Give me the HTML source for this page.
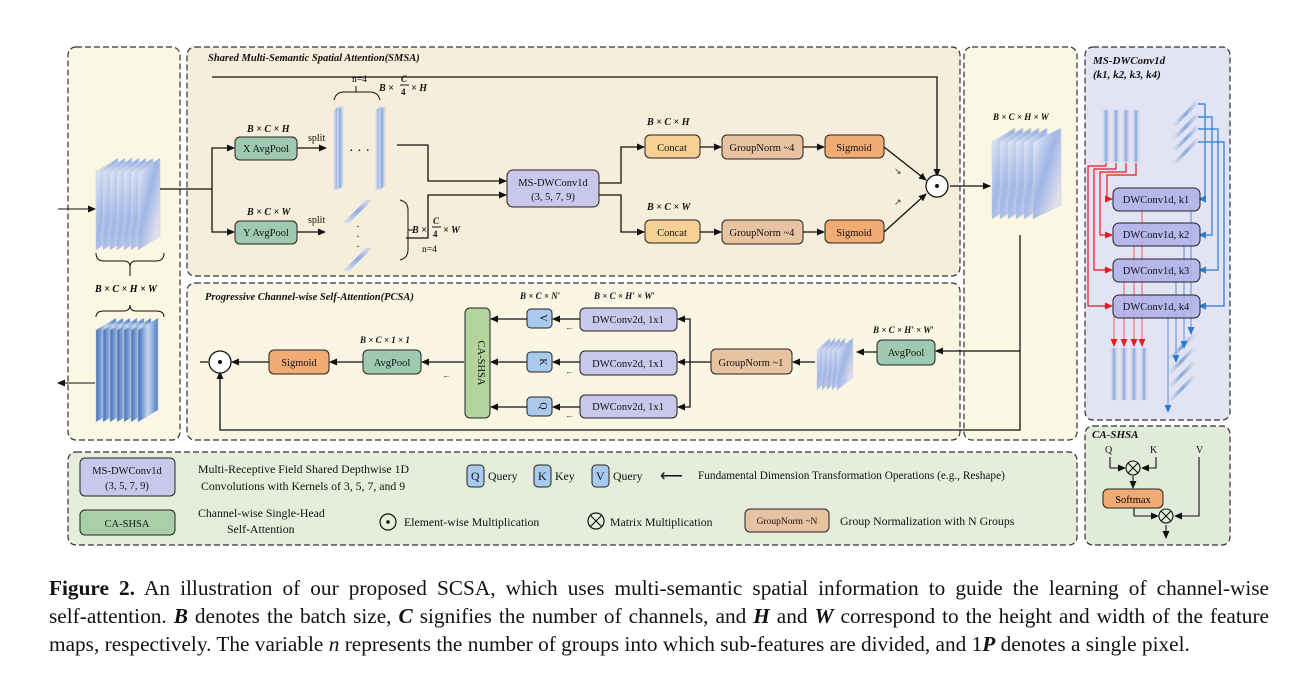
<!DOCTYPE html>
<html><head><meta charset="utf-8"><style>
body{margin:0;background:#fff;}
svg{display:block;font-family:"Liberation Serif",serif;}
.cap{position:absolute;left:49px;top:574px;width:1220px;font-family:"Liberation Serif",serif;font-size:21.3px;line-height:28px;color:#111;}
.cap div{text-align:justify;text-align-last:justify;white-space:nowrap;}
.cap div.l{text-align-last:left;}
</style></head><body>
<div style="position:relative;width:1316px;height:679px;overflow:hidden">
<svg width="1316" height="679" viewBox="0 0 1316 679">
<defs>
<linearGradient id="fm" x1="0" y1="0" x2="1" y2="1">
<stop offset="0" stop-color="#eef0f8"/><stop offset="0.45" stop-color="#9fb6e6"/><stop offset="0.8" stop-color="#dcdcec"/><stop offset="1" stop-color="#e9e1df"/></linearGradient>
<linearGradient id="fm2" x1="0" y1="0" x2="1" y2="0">
<stop offset="0" stop-color="#e6eaf4"/><stop offset="0.5" stop-color="#86a8e0"/><stop offset="1" stop-color="#e6eaf4"/></linearGradient>
<linearGradient id="fm3" x1="0" y1="0" x2="1" y2="0">
<stop offset="0" stop-color="#3f6fb8"/><stop offset="0.5" stop-color="#c7d7ef"/><stop offset="1" stop-color="#4f7fc6"/></linearGradient>
<marker id="a" markerWidth="8" markerHeight="8" refX="7" refY="4" orient="auto" markerUnits="userSpaceOnUse"><path d="M0,0.5 L8,4 L0,7.5z" fill="#111"/></marker>
<marker id="ar" markerWidth="8" markerHeight="8" refX="7" refY="4" orient="auto" markerUnits="userSpaceOnUse"><path d="M0,0.5 L8,4 L0,7.5z" fill="#e81c1c"/></marker>
<marker id="ab" markerWidth="8" markerHeight="8" refX="7" refY="4" orient="auto" markerUnits="userSpaceOnUse"><path d="M0,0.5 L8,4 L0,7.5z" fill="#2a7ccc"/></marker>
</defs>
<g stroke="#333" stroke-width="1.2" stroke-dasharray="6,3">
<rect x="68" y="47" width="112" height="393" rx="8" fill="#faf7e2"/>
<rect x="964" y="47" width="113" height="393" rx="8" fill="#faf7e2"/>
<rect x="187" y="47" width="773" height="229" rx="8" fill="#f7eddb"/>
<rect x="187" y="283" width="773" height="157" rx="8" fill="#faf6e3"/>
<rect x="68" y="452" width="1009" height="93" rx="8" fill="#e6eedb"/>
<rect x="1085" y="47" width="145" height="373" rx="8" fill="#e3e3f6"/>
<rect x="1085" y="426" width="145" height="119" rx="8" fill="#e0ebd9"/>
</g>
<g font-style="italic" font-weight="bold" font-size="10.5" fill="#111">
<text x="208" y="61">Shared Multi-Semantic Spatial Attention(SMSA)</text>
<text x="205" y="300">Progressive Channel-wise Self-Attention(PCSA)</text>
<text x="1093" y="64" font-size="11">MS-DWConv1d</text>
<text x="1093" y="78" font-size="11">(k1, k2, k3, k4)</text>
<text x="1092" y="438" font-size="11">CA-SHSA</text>
</g>
<g>
<polygon points="96,172 118,158 118,236 96,250" fill="url(#fm)" stroke="#ccd" stroke-width="0.5"/>
<polygon points="103,172 125,158 125,236 103,250" fill="url(#fm)" stroke="#ccd" stroke-width="0.5"/>
<polygon points="110,172 132,158 132,236 110,250" fill="url(#fm)" stroke="#ccd" stroke-width="0.5"/>
<polygon points="117,172 139,158 139,236 117,250" fill="url(#fm)" stroke="#ccd" stroke-width="0.5"/>
<polygon points="124,172 146,158 146,236 124,250" fill="url(#fm)" stroke="#ccd" stroke-width="0.5"/>
<polygon points="131,172 153,158 153,236 131,250" fill="url(#fm)" stroke="#ccd" stroke-width="0.5"/>
<polygon points="138,172 160,158 160,236 138,250" fill="url(#fm)" stroke="#ccd" stroke-width="0.5"/>
</g>
<line x1="58" y1="209" x2="95" y2="209" stroke="#111" marker-end="url(#a)"/>
<path d="M96,253 q0,8 8,8 h20 q6,0 6,6 q0,-6 6,-6 h20 q8,0 8,-8" fill="none" stroke="#111"/>
<line x1="130" y1="267" x2="130" y2="276" stroke="#111"/>
<text x="95" y="292" font-size="10" font-style="italic" font-weight="bold">B × C × H × W</text>
<path d="M96,317 q0,-6 8,-6 h20 q6,0 6,-6 q0,6 6,6 h20 q8,0 8,6" fill="none" stroke="#111"/>
<g>
<polygon points="96,330 116,318 116,410 96,422" fill="url(#fm3)" stroke="#ccd" stroke-width="0.5"/>
<polygon points="103,330 123,318 123,410 103,422" fill="url(#fm3)" stroke="#ccd" stroke-width="0.5"/>
<polygon points="110,330 130,318 130,410 110,422" fill="url(#fm3)" stroke="#ccd" stroke-width="0.5"/>
<polygon points="117,330 137,318 137,410 117,422" fill="url(#fm3)" stroke="#ccd" stroke-width="0.5"/>
<polygon points="124,330 144,318 144,410 124,422" fill="url(#fm3)" stroke="#ccd" stroke-width="0.5"/>
<polygon points="131,330 151,318 151,410 131,422" fill="url(#fm3)" stroke="#ccd" stroke-width="0.5"/>
<polygon points="138,330 158,318 158,410 138,422" fill="url(#fm3)" stroke="#ccd" stroke-width="0.5"/>
</g>
<line x1="95" y1="383" x2="58" y2="383" stroke="#111" marker-end="url(#a)"/>
<g stroke="#111" stroke-width="1.3" fill="none">
<path d="M160,189 H212"/>
<path d="M212,189 V148 H234" marker-end="url(#a)"/>
<path d="M212,189 V232 H234" marker-end="url(#a)"/>
<path d="M212,77 H937 V176" marker-end="url(#a)"/>
<path d="M297,148 H326" marker-end="url(#a)"/>
<path d="M297,232 H325" marker-end="url(#a)"/>
<path d="M397,145 H428 V181 H506" marker-end="url(#a)"/>
<path d="M406,238 H428 V195 H506" marker-end="url(#a)"/>
<path d="M599,183 H621 V147 H644" marker-end="url(#a)"/>
<path d="M599,195 H621 V232 H644" marker-end="url(#a)"/>
<path d="M700,147 H721" marker-end="url(#a)"/>
<path d="M803,147 H824" marker-end="url(#a)"/>
<path d="M700,232 H721" marker-end="url(#a)"/>
<path d="M803,232 H824" marker-end="url(#a)"/>
<path d="M884,147 L926,180" marker-end="url(#a)"/>
<path d="M884,232 L926,194" marker-end="url(#a)"/>
<path d="M950,186 H990" marker-end="url(#a)"/>
<path d="M1020,235 V430 H220 V372" marker-end="url(#a)"/>
<path d="M1020,351 H936" marker-end="url(#a)"/>
</g>
<g font-size="9" fill="#333"><text x="894" y="174">↘</text><text x="894" y="205">↗</text></g>
<g fill="url(#fm2)" stroke="#bcc8e0" stroke-width="0.5">
<polygon points="334,110 340,106 340,186 334,190"/><polygon points="337,110 343,106 343,186 337,190"/>
<polygon points="376,110 382,106 382,186 376,190"/><polygon points="379,110 385,106 385,186 379,190"/>
<polygon points="344,222 366,200 369,200 347,222"/><polygon points="347,222 369,200 372,200 350,222"/>
<polygon points="344,270 366,248 369,248 347,270"/><polygon points="347,270 369,248 372,248 350,270"/>
</g>
<text x="349" y="155" font-size="14">· · ·</text>
<text x="356" y="230" font-size="12">·</text><text x="356" y="240" font-size="12">·</text><text x="356" y="250" font-size="12">·</text>
<path d="M334,100 q2,-8 10,-8 h12 v-6 v6 h14 q8,0 10,8" fill="none" stroke="#111"/>
<text x="352" y="82" font-size="9.5">n=4</text>
<path d="M400,200 q8,2 8,10 v20 h5 h-5 v20 q0,8 -8,10" fill="none" stroke="#111"/>
<text x="422" y="252" font-size="9.5">n=4</text>
<g font-size="10" font-style="italic" font-weight="bold" fill="#111">
<text x="379" y="91">B ×</text><text x="401" y="82" font-size="9">C</text><line x1="400" y1="85" x2="409" y2="85" stroke="#111"/><text x="401" y="95" font-size="9" font-style="normal">4</text><text x="411" y="91">× H</text>
<text x="412" y="233">B ×</text><text x="433" y="224" font-size="9">C</text><line x1="432" y1="227" x2="441" y2="227" stroke="#111"/><text x="433" y="237" font-size="9" font-style="normal">4</text><text x="443" y="233">× W</text>
<text x="247" y="132">B × C × H</text>
<text x="247" y="215">B × C × W</text>
<text x="647" y="125">B × C × H</text>
<text x="647" y="210">B × C × W</text>
<text x="993" y="120" font-size="9">B × C × H × W</text>
<text x="520" y="299" font-size="9">B × C × N′</text>
<text x="594" y="299" font-size="9">B × C × H′ × W′</text>
<text x="873" y="333" font-size="9">B × C × H′ × W′</text>
<text x="360" y="343" font-size="9">B × C × 1 × 1</text>
</g>
<g font-size="10" fill="#111"><text x="308" y="141">split</text><text x="308" y="223">split</text></g>
<g stroke="#222" stroke-width="1">
<rect x="235" y="137" width="62" height="23" rx="5" fill="#9fcab1"/>
<rect x="235" y="221" width="62" height="23" rx="5" fill="#9fcab1"/>
<rect x="507" y="170" width="92" height="37" rx="6" fill="#c9c8ec"/>
<rect x="645" y="135" width="55" height="23" rx="5" fill="#f6d193"/>
<rect x="645" y="220" width="55" height="23" rx="5" fill="#f6d193"/>
<rect x="722" y="135" width="81" height="24" rx="5" fill="#e8c3a2"/>
<rect x="722" y="220" width="81" height="24" rx="5" fill="#e8c3a2"/>
<rect x="825" y="135" width="59" height="23" rx="5" fill="#f3ab74"/>
<rect x="825" y="220" width="59" height="23" rx="5" fill="#f3ab74"/>
</g>
<g font-size="10.5" fill="#111" text-anchor="middle">
<text x="266" y="152">X AvgPool</text><text x="266" y="236">Y AvgPool</text>
<text x="553" y="186">MS-DWConv1d</text><text x="553" y="200">(3, 5, 7, 9)</text>
<text x="672" y="151">Concat</text><text x="672" y="236">Concat</text>
<text x="762" y="151">GroupNorm ~4</text><text x="762" y="236">GroupNorm ~4</text>
<text x="854" y="151">Sigmoid</text><text x="854" y="236">Sigmoid</text>
</g>
<circle cx="937" cy="186" r="11" fill="#fff" stroke="#111" stroke-width="1.3"/><circle cx="937" cy="186" r="2" fill="#111"/>
<g>
<polygon points="992,142 1015,128 1015,205 992,219" fill="url(#fm)" stroke="#ccd" stroke-width="0.5"/>
<polygon points="1000,142 1023,128 1023,205 1000,219" fill="url(#fm)" stroke="#ccd" stroke-width="0.5"/>
<polygon points="1008,142 1031,128 1031,205 1008,219" fill="url(#fm)" stroke="#ccd" stroke-width="0.5"/>
<polygon points="1016,142 1039,128 1039,205 1016,219" fill="url(#fm)" stroke="#ccd" stroke-width="0.5"/>
<polygon points="1024,142 1047,128 1047,205 1024,219" fill="url(#fm)" stroke="#ccd" stroke-width="0.5"/>
<polygon points="1033,142 1061,128 1061,205 1033,219" fill="url(#fm)" stroke="#ccd" stroke-width="0.5"/>
</g>
<g stroke="#111" stroke-width="1.3" fill="none">
<path d="M877,352 H857" marker-end="url(#a)"/>
<path d="M815,362 H793" marker-end="url(#a)"/>
<path d="M711,362 H678" marker-end="url(#a)"/>
<path d="M690,362 V319 H678" marker-end="url(#a)"/>
<path d="M690,362 V407 H678" marker-end="url(#a)"/>
<path d="M580,319 H553" marker-end="url(#a)"/>
<path d="M580,362 H553" marker-end="url(#a)"/>
<path d="M580,407 H553" marker-end="url(#a)"/>
<path d="M527,319 H491" marker-end="url(#a)"/>
<path d="M527,362 H491" marker-end="url(#a)"/>
<path d="M527,407 H491" marker-end="url(#a)"/>
<path d="M464,362 H422" marker-end="url(#a)"/>
<path d="M363,362 H330" marker-end="url(#a)"/>
<path d="M269,362 H232" marker-end="url(#a)"/>
<path d="M208,362 H200"/>
</g>
<g font-size="9" fill="#333"><text x="565" y="330">←</text><text x="565" y="374">←</text><text x="565" y="418">←</text><text x="442" y="378">←</text></g>
<g>
<polygon points="817,350 830,338 830,378 817,390" fill="url(#fm)" stroke="#ccd" stroke-width="0.5"/>
<polygon points="822,350 835,338 835,378 822,390" fill="url(#fm)" stroke="#ccd" stroke-width="0.5"/>
<polygon points="827,350 840,338 840,378 827,390" fill="url(#fm)" stroke="#ccd" stroke-width="0.5"/>
<polygon points="832,350 845,338 845,378 832,390" fill="url(#fm)" stroke="#ccd" stroke-width="0.5"/>
<polygon points="837,350 853,338 853,378 837,390" fill="url(#fm)" stroke="#ccd" stroke-width="0.5"/>
</g>
<g stroke="#222" stroke-width="1">
<rect x="877" y="340" width="58" height="25" rx="5" fill="#9fcab1"/>
<rect x="711" y="349" width="81" height="25" rx="5" fill="#e8c3a2"/>
<rect x="580" y="308" width="97" height="23" rx="5" fill="#c9c8ec"/>
<rect x="580" y="351" width="97" height="24" rx="5" fill="#c9c8ec"/>
<rect x="580" y="395" width="97" height="23" rx="5" fill="#c9c8ec"/>
<rect x="527" y="309" width="25" height="19" rx="4" fill="#a9c9ef"/>
<rect x="527" y="352" width="25" height="20" rx="4" fill="#a9c9ef"/>
<rect x="527" y="397" width="25" height="19" rx="4" fill="#a9c9ef"/>
<rect x="465" y="308" width="25" height="110" rx="5" fill="#b3d49c"/>
<rect x="363" y="350" width="58" height="24" rx="5" fill="#9fcab1"/>
<rect x="269" y="350" width="60" height="24" rx="5" fill="#f3ab74"/>
</g>
<g font-size="10.5" fill="#111" text-anchor="middle">
<text x="906" y="356">AvgPool</text>
<text x="751" y="366">GroupNorm ~1</text>
<text x="628" y="323">DWConv2d, 1x1</text><text x="628" y="367">DWConv2d, 1x1</text><text x="628" y="410">DWConv2d, 1x1</text>
<text x="392" y="366">AvgPool</text><text x="299" y="366">Sigmoid</text>
<text transform="translate(540,318) rotate(90)" font-size="10">V</text>
<text transform="translate(540,362) rotate(90)" font-size="10">K</text>
<text transform="translate(540,406) rotate(90)" font-size="10">Q</text>
<text transform="translate(478,363) rotate(90)" font-size="10.5">CA-SHSA</text>
</g>
<circle cx="220" cy="362" r="11" fill="#fff" stroke="#111" stroke-width="1.3"/><circle cx="220" cy="362" r="2" fill="#111"/>
<g stroke="#222" stroke-width="1">
<rect x="80" y="458" width="95" height="38" rx="5" fill="#c9c8ec"/>
<rect x="80" y="510" width="95" height="25" rx="5" fill="#a8d0a8"/>
<rect x="467" y="465" width="17" height="22" rx="4" fill="#a9c9ef"/>
<rect x="534" y="465" width="17" height="22" rx="4" fill="#a9c9ef"/>
<rect x="592" y="465" width="17" height="22" rx="4" fill="#a9c9ef"/>
<rect x="745" y="509" width="84" height="23" rx="5" fill="#e8c3a2"/>
</g>
<g font-size="11.8" fill="#111">
<text x="127" y="474" text-anchor="middle" font-size="10.5">MS-DWConv1d</text><text x="127" y="489" text-anchor="middle" font-size="10.5">(3, 5, 7, 9)</text>
<text x="127" y="527" text-anchor="middle" font-size="10.5">CA-SHSA</text>
<text x="198" y="473">Multi-Receptive Field Shared Depthwise 1D</text>
<text x="201" y="490">Convolutions with Kernels of 3, 5, 7, and 9</text>
<text x="471" y="480">Q</text><text x="488" y="480">Query</text>
<text x="538" y="480">K</text><text x="555" y="480">Key</text>
<text x="596" y="480">V</text><text x="613" y="480">Query</text>
<text x="660" y="481" font-size="16">⟵</text>
<text x="698" y="479" font-size="11.3">Fundamental Dimension Transformation Operations (e.g., Reshape)</text>
<text x="198" y="517">Channel-wise Single-Head</text><text x="227" y="533">Self-Attention</text>
<text x="404" y="526">Element-wise Multiplication</text>
<text x="610" y="526">Matrix Multiplication</text>
<text x="787" y="524" text-anchor="middle" font-size="9.5">GroupNorm ~N</text>
<text x="840" y="525">Group Normalization with N Groups</text>
</g>
<circle cx="388" cy="522" r="8" fill="none" stroke="#111" stroke-width="1.2"/><circle cx="388" cy="522" r="1.8" fill="#111"/>
<g stroke="#111" stroke-width="1.2" fill="none"><circle cx="596" cy="521" r="8"/><path d="M590,515 L602,527 M602,515 L590,527"/></g>
<g fill="url(#fm2)" stroke="#ccc" stroke-width="0.4">
<rect x="1103" y="110" width="6" height="52"/><rect x="1113" y="110" width="6" height="52"/><rect x="1123" y="110" width="6" height="52"/><rect x="1133" y="110" width="6" height="52"/>
<rect x="1111" y="348" width="6" height="52"/><rect x="1121" y="348" width="6" height="52"/><rect x="1131" y="348" width="6" height="52"/><rect x="1141" y="348" width="6" height="52"/>
<polygon points="1172,125 1195,102 1200,102 1177,125"/><polygon points="1172,138 1195,115 1200,115 1177,138"/><polygon points="1172,150 1195,127 1200,127 1177,150"/><polygon points="1172,163 1195,140 1200,140 1177,163"/>
<polygon points="1168,358 1191,335 1196,335 1173,358"/><polygon points="1168,372 1191,349 1196,349 1173,372"/><polygon points="1168,386 1191,363 1196,363 1173,386"/><polygon points="1168,400 1191,377 1196,377 1173,400"/>
</g>
<g stroke="#e81c1c" stroke-width="1.2" fill="none">
<path d="M1136,163 V175 H1107 V199 H1112" marker-end="url(#ar)"/>
<path d="M1126,163 V172 H1100 V235 H1112" marker-end="url(#ar)"/>
<path d="M1116,163 V169 H1094 V270 H1112" marker-end="url(#ar)"/>
<path d="M1106,163 V166 H1088 V306 H1112" marker-end="url(#ar)"/>
</g>
<g stroke="#2a7ccc" stroke-width="1.2" fill="none">
<path d="M1198,104 H1205 V199 H1199" marker-end="url(#ab)"/>
<path d="M1198,117 H1212 V235 H1199" marker-end="url(#ab)"/>
<path d="M1198,129 H1218 V270 H1199" marker-end="url(#ab)"/>
<path d="M1198,142 H1224 V306 H1199" marker-end="url(#ab)"/>
</g>
<g stroke-width="1.2" fill="none">
<path d="M1142,207 V346" stroke="#f07070" marker-end="url(#ar)"/>
<path d="M1134,243 V346" stroke="#f07070" marker-end="url(#ar)"/>
<path d="M1124,278 V346" stroke="#f07070" marker-end="url(#ar)"/>
<path d="M1114,314 V346" stroke="#f07070" marker-end="url(#ar)"/>
<path d="M1191,207 V334" stroke="#6aa0da" marker-end="url(#ab)"/>
<path d="M1184,243 V348" stroke="#6aa0da" marker-end="url(#ab)"/>
<path d="M1176,278 V362" stroke="#6aa0da" marker-end="url(#ab)"/>
<path d="M1168,314 V412" stroke="#6aa0da" marker-end="url(#ab)"/>
</g>
<g stroke="#222" stroke-width="1">
<rect x="1113" y="188" width="87" height="23" rx="6" fill="#aeb0ea" fill-opacity="0.85"/>
<rect x="1113" y="223" width="87" height="23" rx="6" fill="#aeb0ea" fill-opacity="0.85"/>
<rect x="1113" y="259" width="87" height="23" rx="6" fill="#aeb0ea" fill-opacity="0.85"/>
<rect x="1113" y="295" width="87" height="23" rx="6" fill="#aeb0ea" fill-opacity="0.85"/>
</g>
<g font-size="10.5" fill="#111" text-anchor="middle">
<text x="1156" y="203">DWConv1d, k1</text><text x="1156" y="238">DWConv1d, k2</text><text x="1156" y="274">DWConv1d, k3</text><text x="1156" y="310">DWConv1d, k4</text>
</g>
<g font-size="10" fill="#111"><text x="1105" y="453">Q</text><text x="1150" y="453">K</text><text x="1196" y="453">V</text></g>
<g stroke="#111" stroke-width="1.1" fill="none">
<path d="M1110,457 V468 H1125" marker-end="url(#a)"/>
<path d="M1156,457 V468 H1142" marker-end="url(#a)"/>
<path d="M1133,476 V488" marker-end="url(#a)"/>
<path d="M1134,508 V516 H1158" marker-end="url(#a)"/>
<path d="M1199,457 V516 H1175" marker-end="url(#a)"/>
<path d="M1166,525 V538" marker-end="url(#a)"/>
<circle cx="1133" cy="468" r="7"/><path d="M1128,463 L1138,473 M1138,463 L1128,473"/>
<circle cx="1166" cy="516" r="7"/><path d="M1161,511 L1171,521 M1171,511 L1161,521"/>
</g>
<rect x="1103" y="489" width="60" height="19" rx="5" fill="#f3ab74" stroke="#222"/>
<text x="1133" y="503" font-size="10.5" text-anchor="middle">Softmax</text>
</svg>
<div class="cap">
<div><b>Figure 2.</b> An illustration of our proposed SCSA, which uses multi-semantic spatial information to guide the learning of channel-wise</div>
<div>self-attention. <b><i>B</i></b> denotes the batch size, <b><i>C</i></b> signifies the number of channels, and <b><i>H</i></b> and <b><i>W</i></b> correspond to the height and width of the feature</div>
<div class="l">maps, respectively. The variable <i>n</i> represents the number of groups into which sub-features are divided, and 1<b><i>P</i></b> denotes a single pixel.</div>
</div>
</div>
</body></html>
